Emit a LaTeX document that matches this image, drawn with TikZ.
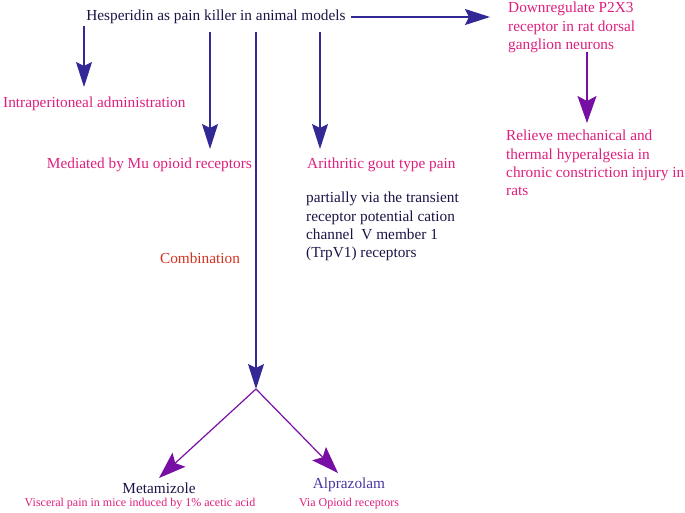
\documentclass[tikz,border=0pt]{standalone}
\usepackage{fontspec}
\setmainfont{Liberation Serif}
\usetikzlibrary{arrows.meta}
\definecolor{navy}{RGB}{25,20,70}
\definecolor{indigo}{RGB}{50,40,150}
\definecolor{magent}{RGB}{222,30,125}
\definecolor{purp}{RGB}{120,15,165}
\definecolor{combo}{RGB}{210,50,30}
\definecolor{alpra}{RGB}{70,55,160}
\tikzset{
  big/.style={inner sep=0pt, font=\fontsize{15.3}{18.3}\selectfont},
  small/.style={inner sep=0pt, font=\fontsize{12}{14}\selectfont},
  arr/.style={draw=indigo, line width=1.2pt, -{Stealth[length=25pt,width=16pt,inset=4pt]}},
  parr/.style={draw=purp, line width=1.2pt, -{Stealth[length=27pt,width=19pt,inset=5pt]}},
}
\begin{document}
\begin{tikzpicture}[x=1pt,y=-1pt]
\useasboundingbox (0,0) rectangle (685,512);
% texts
\node[big, text=navy] (title) at (216,17) {Hesperidin as pain killer in animal models};
\node[big, text=magent, anchor=west] (ip) at (3,104) {Intraperitoneal administration};
\node[big, text=magent, anchor=east] (mu) at (252,165) {Mediated by Mu opioid receptors};
\node[big, text=magent, anchor=west] (gout) at (307,165) {Arithritic gout type pain};
\node[big, text=navy, anchor=north west, align=left] (trp) at (306,192) {partially via the transient\\receptor potential cation\\channel\ \ V member 1\\(TrpV1) receptors};
\node[big, text=combo] (comb) at (200,258) {Combination};
\node[big, text=magent, anchor=north west, align=left] (down) at (508,2) {Downregulate P2X3\\receptor in rat dorsal\\ganglion neurons};
\node[big, text=magent, anchor=north west, align=left] (rel) at (506,130) {Relieve mechanical and\\thermal hyperalgesia in\\chronic constriction injury in\\rats};
\node[big, text=navy] (meta) at (159,488) {Metamizole};
\node[small, text=magent] (visc) at (140,504) {Visceral pain in mice induced by 1\% acetic acid};
\node[big, text=alpra] (alp) at (349,485) {Alprazolam};
\node[small, text=magent] (via) at (349,504) {Via Opioid receptors};
% coordinates
\coordinate (s0) at (351,17); \coordinate (e0) at (490,17);
\coordinate (s1) at (84,26); \coordinate (e1) at (84,87);
\coordinate (s2) at (210,32); \coordinate (e2) at (210,149);
\coordinate (s3) at (256,32); \coordinate (fork) at (256,389);
\coordinate (s4) at (320,32); \coordinate (e4) at (320,149);
\coordinate (s5) at (587,52); \coordinate (e5) at (587,123);
\coordinate (em) at (159,478); \coordinate (ea) at (338,473);
% connectors
\draw[arr] (s0) -- (e0);
\draw[arr] (s1) -- (e1);
\draw[arr] (s2) -- (e2);
\draw[arr] (s3) -- (fork);
\draw[arr] (s4) -- (e4);
\draw[parr] (s5) -- (e5);
\draw[parr] (fork) -- (em);
\draw[parr] (fork) -- (ea);
\end{tikzpicture}
\end{document}
